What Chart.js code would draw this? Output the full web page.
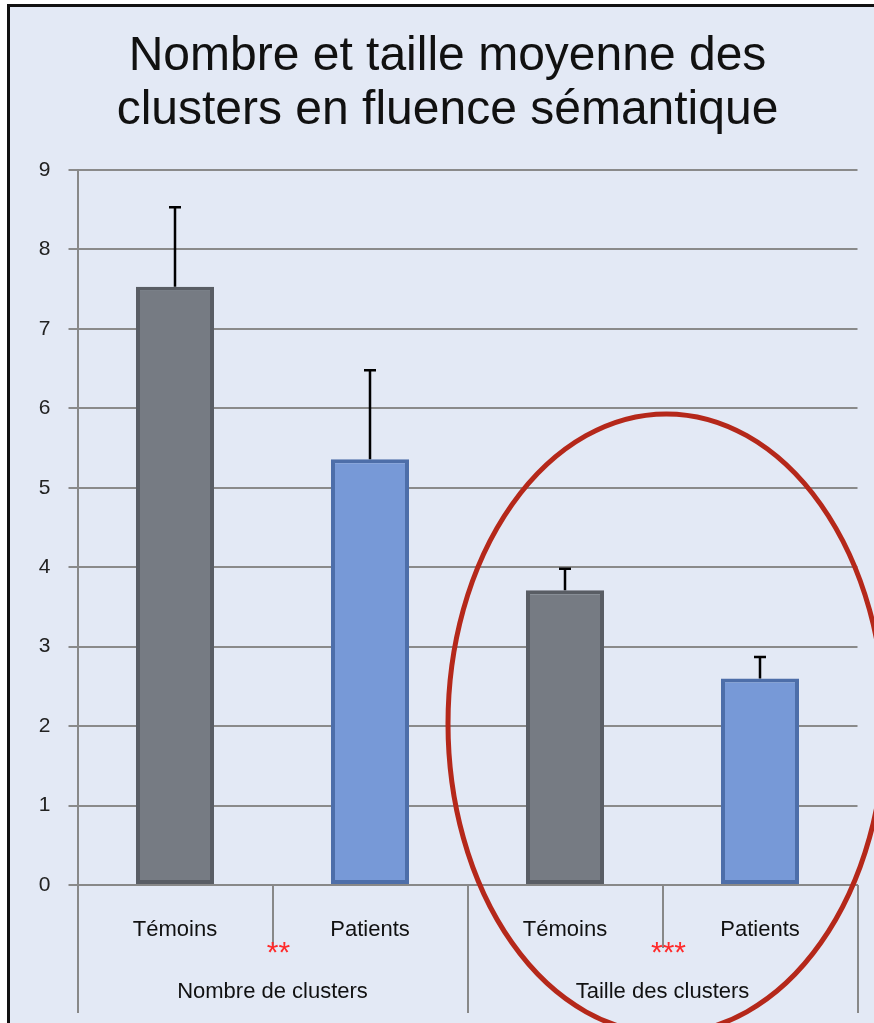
<!DOCTYPE html>
<html>
<head>
<meta charset="utf-8">
<script src="https://cdn.jsdelivr.net/npm/chart.js@4"></script>
<style>
  html, body { margin: 0; padding: 0; background: #ffffff; }
  #wrap { width: 874px; height: 1023px; position: relative; }
</style>
</head>
<body>
<div id="wrap"><canvas id="chart" width="874" height="1023"></canvas></div>
<script>
// data
const categories = ['Témoins', 'Patients', 'Témoins', 'Patients'];
const groups = ['Nombre de clusters', 'Taille des clusters'];
const means = [7.53, 5.36, 3.71, 2.60];
const errors = [1.0, 1.12, 0.27, 0.27];
const stars = ['**', '***'];
const yMin = 0, yMax = 9, yStep = 1;

const fillColors = ['#767b83', '#7799d7', '#767b83', '#7799d7'];
const edgeColors = ['#595d64', '#4d6ea9', '#595d64', '#4d6ea9'];
const FONT = '"Liberation Sans", Arial, sans-serif';

// background + frame
const framePlugin = {
    id: 'frame',
    beforeDraw(chart) {
        const ctx = chart.ctx;
        ctx.save();
        ctx.fillStyle = '#ffffff';
        ctx.fillRect(0, 0, chart.width, chart.height);
        ctx.fillStyle = '#e3e9f5';
        ctx.fillRect(8, 5, chart.width - 8, chart.height - 5);
        ctx.strokeStyle = '#111111';
        ctx.lineWidth = 3;
        ctx.beginPath();
        ctx.moveTo(8.5, chart.height);
        ctx.lineTo(8.5, 5.5);
        ctx.lineTo(chart.width, 5.5);
        ctx.stroke();
        ctx.restore();
    }
};

// error bars (upper only)
const errorBarPlugin = {
    id: 'errorBars',
    afterDatasetsDraw(chart) {
        const ctx = chart.ctx;
        const y = chart.scales.y;
        const meta = chart.getDatasetMeta(0);
        ctx.save();
        ctx.strokeStyle = '#000000';
        ctx.lineWidth = 2.5;
        meta.data.forEach((bar, i) => {
            const top = y.getPixelForValue(means[i] + errors[i]);
            const base = y.getPixelForValue(means[i]);
            ctx.beginPath();
            ctx.moveTo(bar.x, base);
            ctx.lineTo(bar.x, top);
            ctx.moveTo(bar.x - 6, top);
            ctx.lineTo(bar.x + 6, top);
            ctx.stroke();
        });
        ctx.restore();
    }
};

// group dividers, group labels, significance stars, highlight ellipse
const groupPlugin = {
    id: 'groups',
    afterDraw(chart) {
        const ctx = chart.ctx;
        const x = chart.scales.x;
        const y = chart.scales.y;
        const area = chart.chartArea;
        const cat = (area.right - area.left) / categories.length;
        ctx.save();
        ctx.strokeStyle = '#888888';
        ctx.lineWidth = 2;
        for (let i = 0; i <= categories.length; i++) {
            const bx = Math.round(area.left + i * cat);
            const len = (i % 2 === 0) ? 128 : 63;
            ctx.beginPath();
            ctx.moveTo(bx, area.bottom);
            ctx.lineTo(bx, area.bottom + len);
            ctx.stroke();
        }
        ctx.fillStyle = '#111111';
        ctx.font = '22px ' + FONT;
        ctx.textAlign = 'center';
        ctx.textBaseline = 'middle';
        groups.forEach((g, gi) => {
            const cx = area.left + (gi * 2 + 1) * cat;
            ctx.fillText(g, cx, area.bottom + 107);
        });
        ctx.fillStyle = '#ff2a2a';
        ctx.font = '30px ' + FONT;
        stars.forEach((s, gi) => {
            const cx = area.left + (gi * 2 + 1) * cat;
            ctx.fillText(s, cx + 6, area.bottom + 69);
        });

        // ellipse around the second group
        const ex = (x.getPixelForValue(2) + x.getPixelForValue(3)) / 2 + 0.02 * cat;
        const ey = y.getPixelForValue(2.03);
        const rx = 1.12 * cat;
        const ry = y.getPixelForValue(0) - y.getPixelForValue(3.9);
        ctx.strokeStyle = '#b5281a';
        ctx.lineWidth = 5;
        ctx.beginPath();
        ctx.ellipse(ex, ey, rx, ry, 0, 0, Math.PI * 2);
        ctx.stroke();
        ctx.restore();
    }
};

new Chart(document.getElementById('chart'), {
    type: 'bar',
    data: {
        labels: categories,
        datasets: [{
            data: means,
            backgroundColor: fillColors,
            borderColor: edgeColors,
            borderWidth: 4,
            borderSkipped: false,
            inflateAmount: 0,
            barPercentage: 0.4,
            categoryPercentage: 1.0
        }]
    },
    options: {
        responsive: false,
        animation: false,
        layout: { padding: { left: 37.5, right: 16.5, top: 30, bottom: 0 } },
        plugins: {
            legend: { display: false },
            tooltip: { enabled: false },
            title: {
                display: true,
                text: ['Nombre et taille moyenne des', 'clusters en fluence sémantique'],
                color: '#111111',
                font: { family: FONT, size: 48, weight: 'normal', lineHeight: 1.125 },
                padding: { top: 0, bottom: 32 }
            }
        },
        scales: {
            x: {
                grid: { display: false },
                border: { display: true, color: '#888888', width: 2 },
                ticks: { color: '#111111', font: { family: FONT, size: 22 }, padding: 24 },
                afterFit(scale) { scale.height = 138; }
            },
            y: {
                min: yMin,
                max: yMax,
                ticks: { stepSize: yStep, color: '#222222', font: { family: FONT, size: 21 }, padding: 18 },
                grid: { color: '#8a8a8a', lineWidth: 2, tickLength: 9 },
                border: { display: true, color: '#888888', width: 2 },
                afterFit(scale) { scale.width = 40; }
            }
        }
    },
    plugins: [framePlugin, errorBarPlugin, groupPlugin]
});
</script>
</body>
</html>
